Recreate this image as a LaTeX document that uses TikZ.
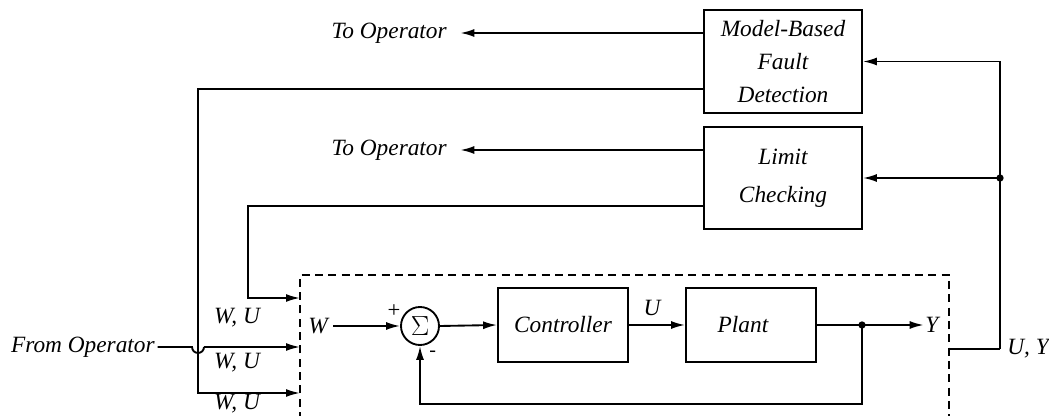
\documentclass[tikz,border=0pt]{standalone}
\usepackage{fontspec}
\setmainfont{Liberation Serif}
\usetikzlibrary{arrows.meta}
\begin{document}
\begin{tikzpicture}[x=0.75pt,y=-0.75pt,
  every node/.style={font=\fontsize{17.5}{20}\selectfont\itshape},
  line/.style={line width=1.4pt},
  arr/.style={line width=1.4pt,-{Latex[length=10.5pt,width=6pt]}},
  blk/.style={draw,line width=1.4pt,align=center,inner sep=0pt},
  lbl/.style={inner sep=0pt},
  dot/.style={circle,fill,inner sep=0pt,minimum size=5.5pt},
  frame/.style={line width=1.4pt,dash pattern=on 6pt off 4pt}]
\useasboundingbox (0,0) rectangle (1049,416);
% blocks
\node[blk,minimum width=118.5pt,minimum height=77.25pt,
  font=\fontsize{17.5}{24.5}\selectfont\itshape] (mbfd) at (783,61.5) {Model-Based\\Fault\\Detection};
\node[blk,minimum width=118.5pt,minimum height=76.5pt,
  font=\fontsize{17.5}{28.5}\selectfont\itshape] (lc) at (783,178) {Limit\\Checking};
\node[blk,minimum width=97.5pt,minimum height=55.5pt] (ctrl) at (563,325) {Controller};
\node[blk,minimum width=97.5pt,minimum height=55.5pt] (plant) at (751,325) {\hspace*{-12pt}Plant};
\node[draw,circle,line width=1.4pt,minimum size=28.5pt,inner sep=0pt,font=\fontsize{21}{22}\selectfont] (sig) at (420,326) {$\Sigma$};
% dashed frame
\coordinate (fbl) at (300,420);
\coordinate (ftl) at (300,275);
\coordinate (ftr) at (949,275);
\coordinate (fbr) at (949,420);
\draw[frame] (fbl) -- (ftl) -- (ftr) -- (fbr);
% texts
\node[lbl,anchor=east] (to1) at (447,33) {To Operator};
\node[lbl,anchor=east] (to2) at (447,150) {To Operator};
\node[lbl,anchor=east] (from) at (155,347) {From Operator};
\node[lbl] (wu1) at (237,318) {W, U};
\node[lbl] (wu2) at (237,363) {W, U};
\node[lbl] (wu3) at (237,404) {W, U};
\node[lbl] (w) at (318,326) {W};
\node[lbl] (u) at (652,308) {U};
\node[lbl,anchor=west] (y) at (925,325) {Y};
\node[lbl,anchor=west] (uy) at (1007,349) {U, Y};
\node[lbl,font=\fontsize{17}{18}\selectfont] (plus) at (394,311) {+};
\node[lbl,font=\fontsize{15}{16}\selectfont,anchor=north west] (minus) at (429,351) {-};
% coordinates
\coordinate (c1) at (198,89);
\coordinate (in3) at (300,393);
\coordinate (c2) at (248,206);
\coordinate (in1) at (300,298);
\coordinate (in2) at (300,347);
\coordinate (jl) at (192,347);
\coordinate (ydot) at (862,325);
\coordinate (fb) at (862,404);
\coordinate (o1) at (949,349);
\coordinate (o2) at (1000,349);
\coordinate (sp) at (1000,178);
% to operator
\draw[arr] (mbfd.west |- to1.east) -- ([xshift=10pt]to1.east);
\draw[arr] (lc.west |- to2.east) -- ([xshift=10pt]to2.east);
% feed into loop
\draw[arr] (mbfd.west |- c1) -- (c1) -- (c1 |- in3) -- (in3);
\draw[arr] (lc.west |- c2) -- (c2) -- (c2 |- in1) -- (in1);
\draw[line] ([xshift=2pt]from.east) -- (jl) arc[start angle=180,end angle=360,radius=4.5pt];
\draw[arr] ([xshift=9pt]jl) -- (in2);
% inner loop
\draw[arr] ([xshift=4pt]w.east) -- (sig.west);
\draw[arr] (sig.east) -- (ctrl.west);
\draw[arr] (ctrl.east) -- (plant.west);
\draw[line] (plant.east) -- (ydot);
\draw[arr] (ydot) -- ([xshift=-1pt]y.west);
\draw[arr] (ydot) -- (fb) -- (sig |- fb) -- (sig.south);
\node[dot] at (ydot) {};
% outputs to diagnosis
\draw[line] (o1) -- (o2);
\draw[arr] (o2) -- (mbfd.east -| o2) -- (mbfd.east);
\draw[arr] (sp) -- (lc.east);
\node[dot] at (sp) {};
\end{tikzpicture}
\end{document}
